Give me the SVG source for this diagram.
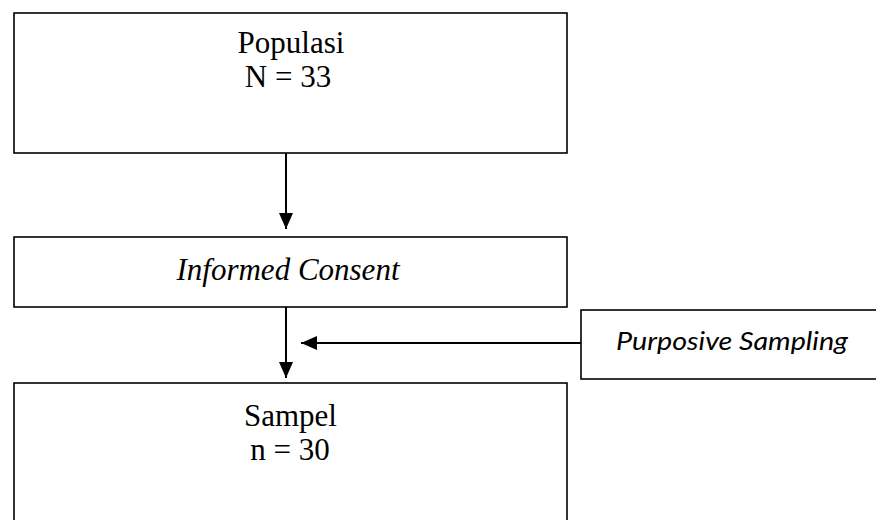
<svg xmlns="http://www.w3.org/2000/svg" width="876" height="520" viewBox="0 0 876 520">
<defs>
<style>
.box{fill:#fff;stroke:#000;stroke-width:1.6}
.t{font-family:"Liberation Serif","Times New Roman",serif;font-size:31px;fill:#000;text-anchor:middle}
.i{font-style:italic}
.s{font-family:Lato,"Open Sans",sans-serif;font-style:italic;font-size:26px;fill:#000}
.ln{stroke:#000;stroke-width:2;fill:none}
</style>
<marker id="ah" viewBox="0 0 16 14" refX="16" refY="7" markerWidth="16" markerHeight="14" markerUnits="userSpaceOnUse" orient="auto">
<path d="M0,0 L16,7 L0,14 Z" fill="#000"/>
</marker>
</defs>
<rect width="876" height="520" fill="#fff"/>
<g id="connectors">
<line class="ln" x1="286" y1="153" x2="286" y2="229" marker-end="url(#ah)"/>
<line class="ln" x1="286" y1="307" x2="286" y2="378" marker-end="url(#ah)"/>
<line class="ln" x1="581" y1="343" x2="301" y2="343" marker-end="url(#ah)"/>
</g>
<g id="populasi">
<rect class="box" x="14" y="13" width="553" height="140"/>
<text class="t" x="291" y="53">Populasi</text>
<text class="t" x="288" y="87">N = 33</text>
</g>
<g id="informed-consent">
<rect class="box" x="14" y="237" width="553" height="70"/>
<text class="t i" x="288" y="280">Informed Consent</text>
</g>
<g id="purposive-sampling">
<rect class="box" x="581" y="310" width="300" height="69"/>
<text class="s" x="616" y="350" textLength="232" lengthAdjust="spacingAndGlyphs">Purposive Sampling</text>
</g>
<g id="sampel">
<rect class="box" x="14" y="383" width="553" height="150"/>
<text class="t" x="290.5" y="426">Sampel</text>
<text class="t" x="290" y="460">n = 30</text>
</g>
</svg>
